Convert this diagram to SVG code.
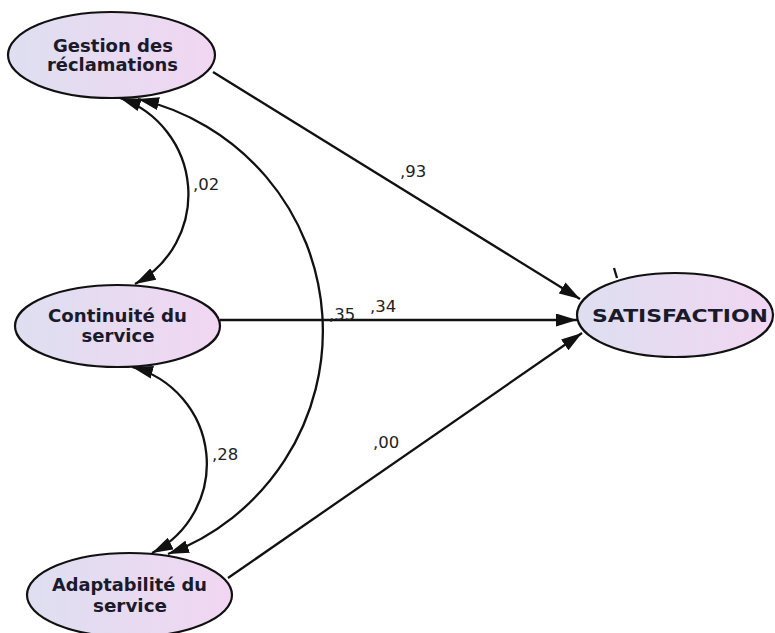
<svg xmlns="http://www.w3.org/2000/svg" width="775" height="633" viewBox="0 0 775 633">
<style>
.node{stroke:#111;stroke-width:2.2;fill:url(#g)}
.nt{font-family:"DejaVu Sans","Liberation Sans",sans-serif;font-weight:bold;font-size:17.5px;fill:#1a1a2a;text-anchor:middle}
.lbl{font-family:"DejaVu Sans","Liberation Sans",sans-serif;font-size:16.5px;fill:#222}
.c{fill:none;stroke:#111;stroke-width:2.3}
</style>
<defs>
<linearGradient id="g" x1="0" y1="0" x2="1" y2="0">
<stop offset="0" stop-color="#dedff0"/>
<stop offset="1" stop-color="#f1d6f2"/>
</linearGradient>
<marker id="ah" viewBox="0 0 21 13" refX="21" refY="6.5" markerWidth="21" markerHeight="13" markerUnits="userSpaceOnUse" orient="auto-start-reverse">
<path d="M0,0 L21,6.5 L0,13 z" fill="#111"/>
</marker>
</defs>
<rect width="775" height="633" fill="#fff"/>
<g id="connectors">
<line class="c" x1="213" y1="72" x2="580" y2="299" marker-end="url(#ah)"/>
<line class="c" x1="220" y1="320" x2="577" y2="320" marker-end="url(#ah)"/>
<line class="c" x1="228" y1="578" x2="582" y2="333" marker-end="url(#ah)"/>
<path class="c" d="M120,98 A102,102 0 0 1 135,284" marker-start="url(#ah)" marker-end="url(#ah)"/>
<path class="c" d="M132,367 A100,100 0 0 1 152,553" marker-start="url(#ah)" marker-end="url(#ah)"/>
<path class="c" d="M138,99 A238,238 0 0 1 168,554" marker-start="url(#ah)" marker-end="url(#ah)"/>
<line class="c" x1="614" y1="268" x2="617" y2="278" stroke-width="1.5"/>
<text class="lbl" x="400" y="177">,93</text>
<text class="lbl" x="370" y="312">,34</text>
<text class="lbl" x="329" y="320">,35</text>
<text class="lbl" x="193" y="190">,02</text>
<text class="lbl" x="212" y="460">,28</text>
<text class="lbl" x="373" y="448">,00</text>
</g>
<g id="gestion">
<ellipse class="node" cx="111.5" cy="55" rx="103.5" ry="43"/>
<text class="nt" x="113" y="52" textLength="120" lengthAdjust="spacingAndGlyphs">Gestion des</text>
<text class="nt" x="112.5" y="71" textLength="131" lengthAdjust="spacingAndGlyphs">réclamations</text>
</g>
<g id="continuite">
<ellipse class="node" cx="117.5" cy="326" rx="102.5" ry="41"/>
<text class="nt" x="117.5" y="322" textLength="139" lengthAdjust="spacingAndGlyphs">Continuité du</text>
<text class="nt" x="118" y="342" textLength="73" lengthAdjust="spacingAndGlyphs">service</text>
</g>
<g id="adaptabilite">
<ellipse class="node" cx="129.5" cy="595" rx="102.5" ry="42"/>
<text class="nt" x="129.5" y="591" textLength="155" lengthAdjust="spacingAndGlyphs">Adaptabilité du</text>
<text class="nt" x="130" y="612" textLength="74" lengthAdjust="spacingAndGlyphs">service</text>
</g>
<g id="satisfaction">
<ellipse class="node" cx="675" cy="315" rx="98" ry="42"/>
<text class="nt" x="680" y="322" font-size="20" textLength="176" lengthAdjust="spacingAndGlyphs">SATISFACTION</text>
</g>
</svg>
